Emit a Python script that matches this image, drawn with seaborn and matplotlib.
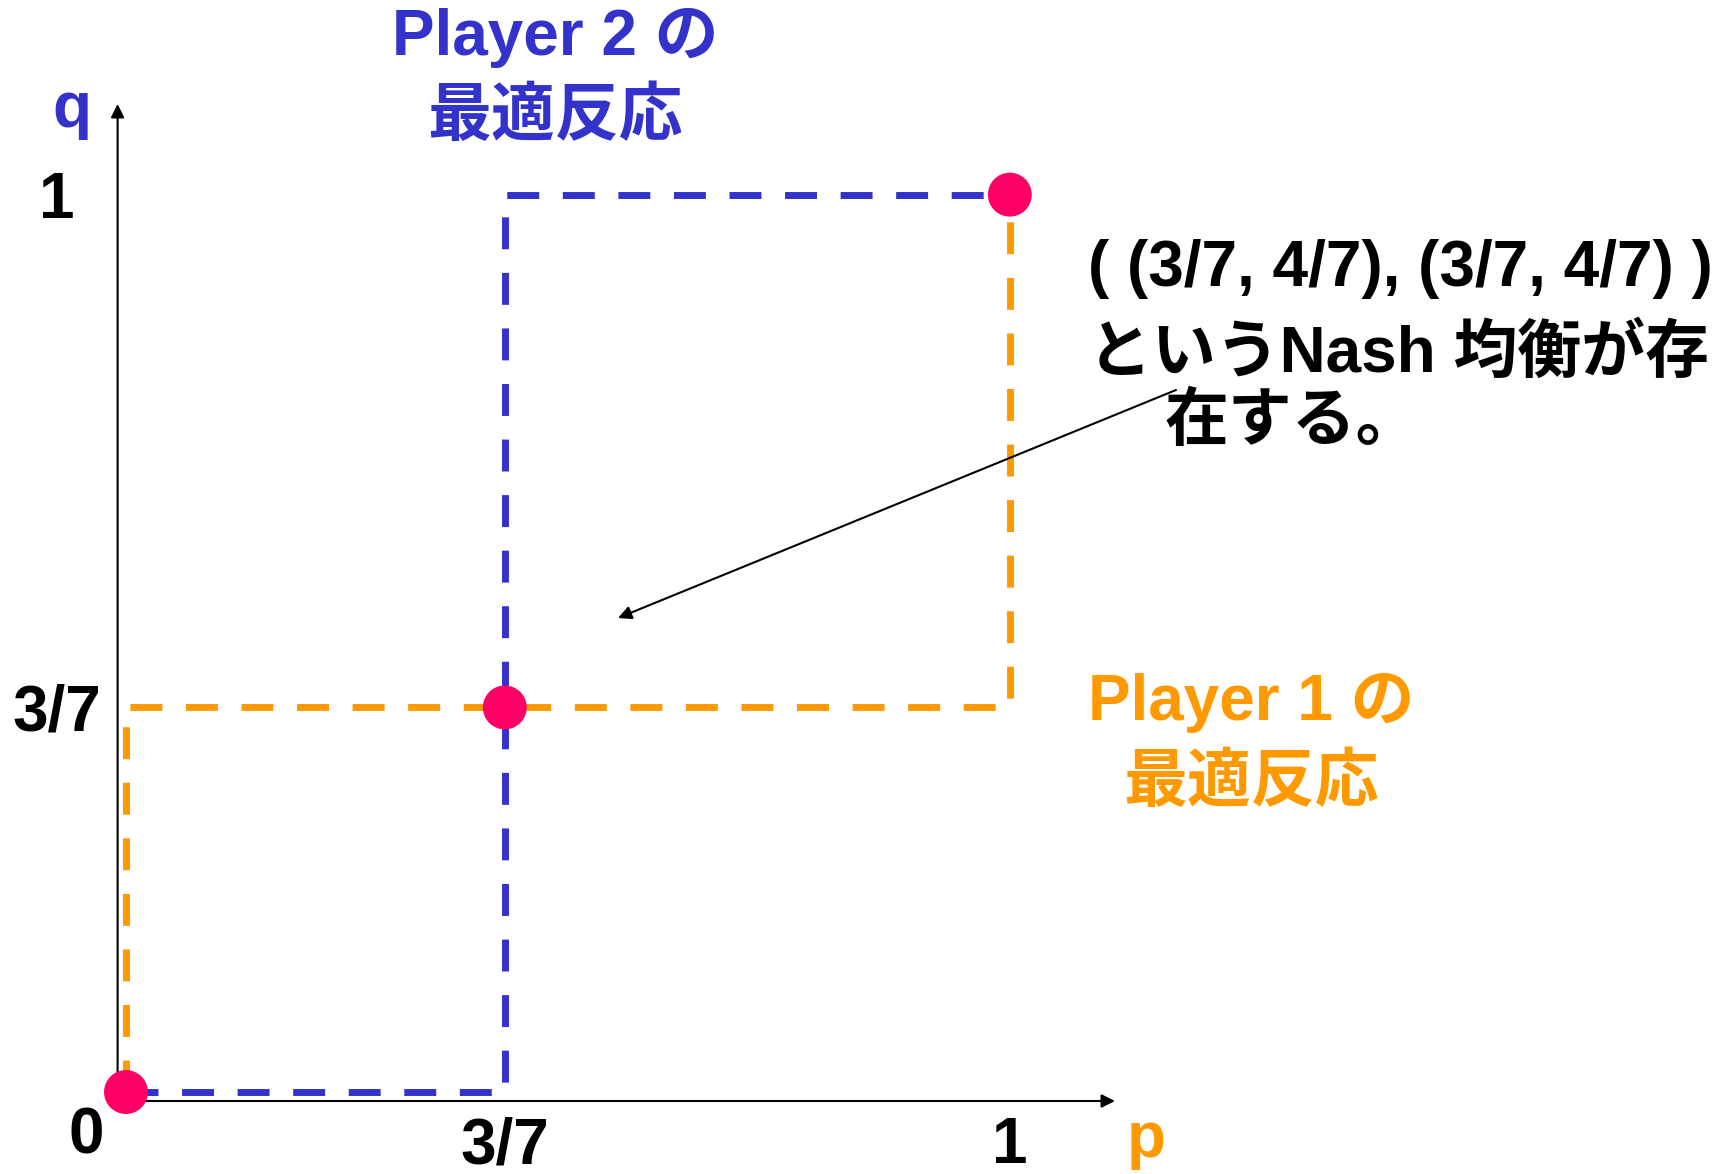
import matplotlib
matplotlib.use("Agg")
import matplotlib.pyplot as plt
import seaborn as sns

# Best-response correspondences (p = Player 1's mix, q = Player 2's mix)
p2_best_p = [0, 3/7, 3/7, 1]
p2_best_q = [0, 0, 1, 1]
p1_best_p = [0, 0, 1, 1]
p1_best_q = [0, 3/7, 3/7, 1]

# Nash equilibria (intersections)
eq_p = [0, 3/7, 1]
eq_q = [0, 3/7, 1]

tick_vals = [3/7, 1]
tick_labels = ["3/7", "1"]

BLUE = "#3333CC"
ORANGE = "#FF9900"
PINK = "#FF0066"

sns.set_theme(style="white")
plt.rcParams["font.family"] = ["Liberation Sans", "Noto Sans CJK JP"]
plt.rcParams["font.weight"] = "bold"

W, H = 1723, 1174
fig = plt.figure(figsize=(W / 100, H / 100), dpi=100)
ax = fig.add_axes([117.6 / W, 1 - 1101 / H, (1115 - 117.6) / W, (1101 - 104) / H])
ax.set_xlim(-0.0095, 1.119)
ax.set_ylim(-0.0100, 1.101)
for s in ax.spines.values():
    s.set_visible(False)

dash = (0, (4.6, 3.4))
sns.lineplot(x=p2_best_p, y=p2_best_q, sort=False, estimator=None, color=BLUE,
             lw=5, linestyle=dash, ax=ax)
sns.lineplot(x=p1_best_p, y=p1_best_q, sort=False, estimator=None, color=ORANGE,
             lw=5, linestyle=dash, ax=ax)
sns.scatterplot(x=eq_p, y=eq_q, s=1000, color=PINK, edgecolor="none", zorder=5,
                clip_on=False, ax=ax)

# Axes drawn as arrows
arrow = dict(arrowstyle="-|>", color="black", lw=1.5, mutation_scale=20,
             shrinkA=0, shrinkB=0)
ax.annotate("", xy=(1, 0), xytext=(0, 0), xycoords="axes fraction", arrowprops=arrow)
ax.annotate("", xy=(0, 1), xytext=(0, 0), xycoords="axes fraction", arrowprops=arrow)

FS = 46
ax.set_xticks(tick_vals)
ax.set_xticklabels(tick_labels, fontsize=FS, fontweight="bold", color="black")
ax.set_yticks(tick_vals)
ax.set_yticklabels(tick_labels, fontsize=FS, fontweight="bold", color="black",
                   ha="center")
ax.tick_params(axis="x", length=0, pad=11)
ax.tick_params(axis="y", length=0, pad=44)
ax.set_xlabel("")
ax.set_ylabel("")
ax.grid(False)


def ftext(x, y, s, color="black", ha="center", va="center", size=FS):
    fig.text(x / W, 1 - y / H, s, color=color, ha=ha, va=va, fontsize=size,
             fontweight="bold")


ftext(86, 1137, "0")
ftext(72, 110, "q", color=BLUE)
ftext(1146, 1140, "p", color=ORANGE)

ftext(555, 38, "Player 2 の", color=BLUE)
ftext(555, 118, "最適反応", color=BLUE)
ftext(1251, 703, "Player 1 の", color=ORANGE)
ftext(1251, 784, "最適反応", color=ORANGE)

ftext(1088, 269, "( (3/7, 4/7), (3/7, 4/7) )", ha="left")
ftext(1088, 354, "というNash 均衡が存", ha="left")
ftext(1165, 423, "在する。", ha="left")

fig.add_artist(matplotlib.patches.FancyArrowPatch(
    (1176 / W, 1 - 390 / H), (618 / W, 1 - 618 / H), transform=fig.transFigure,
    arrowstyle="-|>", color="black", lw=1.5, mutation_scale=20,
    shrinkA=0, shrinkB=0))

fig.savefig("out.png", dpi=100, facecolor="white")
